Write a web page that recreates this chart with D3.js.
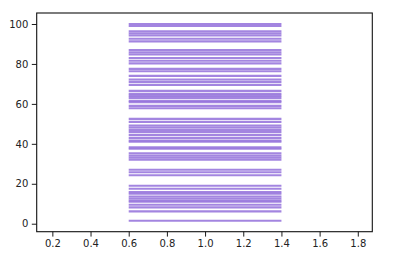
<!DOCTYPE html>
<html lang="en">
<head>
    <meta charset="UTF-8">
    <script src="https://d3js.org/d3.v7.min.js"></script>
    <style>
        body { margin: 0; background: #fff; }
        text { font-family: "DejaVu Sans", sans-serif; }
    </style>
    <title>Event plot</title>
</head>
<body>

<div id="chart"></div>

<script>
    // event positions
    const events = [100, 99, 96.3, 95.2, 94.2, 92.6, 91.3, 87, 85.8, 84.7, 83, 81.6, 80.3,
        77.5, 76.3, 74, 72.2, 71, 69.5, 66.5, 65, 64, 63, 61.5, 60.8, 59, 57.8,
        52.5, 51, 49.2, 48.2, 47, 45.9, 44.5, 43, 41.7, 41, 38.2, 37.5, 35.2, 34, 33, 32,
        27, 25.8, 24.3, 19, 17.5, 15.8, 15, 13.6, 12.6, 11.6, 11, 9.5, 8.2, 6.2, 1.5];
    const lineOffset = 1.0;
    const lineLength = 0.8;
    const xTicks = [0.2, 0.4, 0.6, 0.8, 1.0, 1.2, 1.4, 1.6, 1.8];
    const yTicks = [0, 20, 40, 60, 80, 100];

    const width = 407, height = 263;
    const margin = { left: 36.7, right: 372.3, top: 13, bottom: 231.7 };

    const svg = d3.select("#chart").append("svg")
        .attr("width", width)
        .attr("height", height);

    const x = d3.scaleLinear().domain([0.118, 1.876]).range([margin.left, margin.right]);
    const y = d3.scaleLinear().domain([-4, 105.5]).range([margin.bottom, margin.top]);

    // event lines
    svg.append("g")
        .selectAll("line")
        .data(events)
        .enter().append("line")
        .attr("x1", x(lineOffset - lineLength / 2))
        .attr("x2", x(lineOffset + lineLength / 2))
        .attr("y1", d => y(d))
        .attr("y2", d => y(d))
        .attr("stroke", "#9370db")
        .attr("stroke-opacity", 0.85)
        .attr("stroke-width", 2.1);

    // axes
    const xAxis = svg.append("g")
        .attr("transform", `translate(0,${margin.bottom})`)
        .call(d3.axisBottom(x).tickValues(xTicks).tickFormat(d3.format(".1f")).tickSizeOuter(0).tickSize(4.9).tickPadding(3.5));
    const yAxis = svg.append("g")
        .attr("transform", `translate(${margin.left},0)`)
        .call(d3.axisLeft(y).tickValues(yTicks).tickSizeOuter(0).tickSize(4.9).tickPadding(3.5));

    [xAxis, yAxis].forEach(g => {
        g.select(".domain").remove();
        g.selectAll("line").attr("stroke", "#000").attr("stroke-width", 0.9);
        g.selectAll("text").attr("fill", "#222").style("font-size", "10px").attr("font-family", "DejaVu Sans");
    });

    // frame
    svg.append("rect")
        .attr("x", margin.left)
        .attr("y", margin.top)
        .attr("width", margin.right - margin.left)
        .attr("height", margin.bottom - margin.top)
        .attr("fill", "none")
        .attr("stroke", "#111")
        .attr("stroke-width", 1.1);
</script>

</body>
</html>
